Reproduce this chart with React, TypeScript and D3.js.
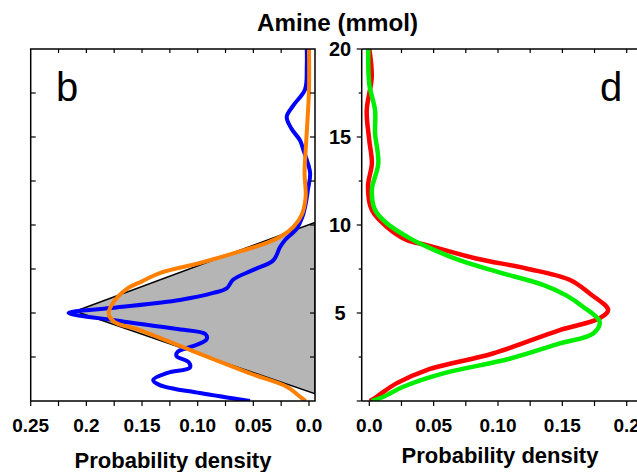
import React from "react";
import * as d3 from "d3";

// ---- data (amine mmol, probability density) ----
const blueAmine = [0, 0.45, 0.9, 1.2, 1.6, 1.9, 2.2, 2.55, 2.8, 3.1, 3.5, 3.8, 4.1, 4.55, 5.0, 5.28, 5.74, 6.14, 6.4, 6.9, 7.45, 8.0, 8.75, 9.15, 9.8, 10.45, 11.2, 12.0, 12.95, 14.26, 14.8, 15.5, 16.15, 16.8, 17.7, 19.0, 20.0];
const blueDensity = [0.053, 0.098, 0.134, 0.14, 0.127, 0.107, 0.108, 0.119, 0.118, 0.105, 0.092, 0.093, 0.12, 0.17, 0.216, 0.178, 0.116, 0.086, 0.074, 0.068, 0.05, 0.032, 0.026, 0.0215, 0.011, 0.006, 0.003, 0.001, -0.001, 0.005, 0.008, 0.016, 0.02, 0.014, 0.0036, 0.002, 0.002];

const orangeAmine = [0, 0.24, 0.81, 1.57, 2.9, 4.03, 4.5, 5.0, 5.57, 5.9, 6.4, 6.8, 7.27, 7.84, 8.5, 8.98, 9.4, 9.9, 10.57, 11.6, 12.95, 14.26, 15.8, 17.7, 20.0];
const orangeDensity = [0.003, 0.008, 0.02, 0.053, 0.107, 0.152, 0.175, 0.18, 0.176, 0.172, 0.163, 0.15, 0.134, 0.098, 0.062, 0.038, 0.024, 0.014, 0.0066, 0.003, 0.004, 0.003, 0.0015, 0.0, 0.0];

const priorAmine = [10.15, 5.1, 0.41];
const priorDensity = [-0.0054, 0.21, -0.0054];

const redAmine = [0, 0.24, 1.0, 1.76, 2.7, 4.03, 4.7, 5.17, 6.12, 6.875, 7.53, 8.1, 8.86, 9.15, 9.9, 10.85, 12.2, 13.5, 14.8, 16.5, 18.4, 20.0];
const redDensity = [0.0005, 0.0057, 0.021, 0.0446, 0.096, 0.148, 0.179, 0.1856, 0.171, 0.156, 0.122, 0.083, 0.0446, 0.029, 0.0135, 0.002, -0.001, 0.002, 0.0, -0.002, 0.0019, 0.0];

const greenAmine = [0, 0.24, 0.81, 1.57, 2.4, 3.27, 3.84, 4.5, 5.36, 6.0, 6.6, 7.35, 8.0, 8.77, 9.24, 10.1, 10.85, 12.0, 13.5, 15.2, 16.5, 18.0, 20.0];
const greenDensity = [0.002, 0.011, 0.0264, 0.0575, 0.109, 0.148, 0.174, 0.179, 0.166, 0.153, 0.135, 0.099, 0.07, 0.0446, 0.0316, 0.0135, 0.0045, 0.002, 0.007, 0.0045, 0.0045, 0.0, -0.0008];

const leftTickValues = [0.25, 0.2, 0.15, 0.1, 0.05, 0.0];
const leftTickLabels = ["0.25", "0.2", "0.15", "0.10", "0.05", "0.0"];
const rightTickValues = [0.0, 0.05, 0.1, 0.15, 0.2];
const rightTickLabels = ["0.0", "0.05", "0.10", "0.15", "0.2"];
const yTickValues = [5, 10, 15, 20];
const yTickLabels = ["5", "10", "15", "20"];
const yMinorValues = [2.5, 5, 7.5, 10, 12.5, 15, 17.5];

const FONT = "'Liberation Sans', Arial, Helvetica, sans-serif";

export default function App() {
  const W = 637, H = 472;
  const y = d3.scaleLinear().domain([0, 20]).range([401, 49]);
  const xL = d3.scaleLinear().domain([0.25, 0]).range([30.7, 309]);
  const xR = d3.scaleLinear().domain([0, 0.2]).range([369.3, 626.7]);
  const L = { x0: 30.7, x1: 315, y0: 49, y1: 401 };
  const R = { x0: 361.7, x1: 660, y0: 49, y1: 401 };

  const zip = (a: number[], d: number[]) => a.map((v, i) => [d[i], v] as [number, number]);
  const lineL = d3.line<[number, number]>().x((p) => xL(p[0])).y((p) => y(p[1])).curve(d3.curveCatmullRom.alpha(0.5));
  const lineR = d3.line<[number, number]>().x((p) => xR(p[0])).y((p) => y(p[1])).curve(d3.curveCatmullRom.alpha(0.5));
  const priorPath = d3.line<[number, number]>().x((p) => xL(p[0])).y((p) => y(p[1]))(zip(priorAmine, priorDensity)) + "Z";

  const minorX = d3.range(0, 11).map((i) => i * 0.025);
  const minorXR = d3.range(0, 11).map((i) => i * 0.025);

  return (
    <svg width={W} height={H} style={{ position: "absolute", left: 0, top: 0, display: "block" }} fontFamily={FONT}>
      <defs>
        <clipPath id="clipL"><rect x={L.x0} y={L.y0} width={L.x1 - L.x0} height={L.y1 - L.y0} /></clipPath>
        <clipPath id="clipR"><rect x={R.x0} y={R.y0} width={R.x1 - R.x0} height={R.y1 - R.y0} /></clipPath>
      </defs>
      <rect width={W} height={H} fill="#fff" />

      {/* Left panel */}
      <g clipPath="url(#clipL)">
        <path d={priorPath} fill="#b5b5b5" stroke="#000" strokeWidth={1.5} />
        <path d={lineL(zip(blueAmine, blueDensity)) || ""} fill="none" stroke="#0000ff" strokeWidth={4} strokeLinejoin="round" />
        <path d={lineL(zip(orangeAmine, orangeDensity)) || ""} fill="none" stroke="#ff7f00" strokeWidth={4} strokeLinejoin="round" />
      </g>
      <rect x={L.x0} y={L.y0} width={L.x1 - L.x0} height={L.y1 - L.y0} fill="none" stroke="#000" strokeWidth={1.5} />
      {minorX.map((v, i) => (
        <g key={"lx" + i}>
          <line x1={xL(v)} x2={xL(v)} y1={L.y1} y2={L.y1 + 5} stroke="#000" strokeWidth={1.2} />
          {v > 0.001 && v < 0.249 && <line x1={xL(v)} x2={xL(v)} y1={L.y0} y2={L.y0 + 4} stroke="#000" strokeWidth={1.2} />}
        </g>
      ))}
      {yMinorValues.map((v, i) => (
        <g key={"ly" + i}>
          <line x1={L.x0} x2={L.x0 + 5} y1={y(v)} y2={y(v)} stroke="#000" strokeWidth={1.2} />
          <line x1={L.x1 - 5} x2={L.x1} y1={y(v)} y2={y(v)} stroke="#000" strokeWidth={1.2} />
        </g>
      ))}
      {leftTickValues.map((v, i) => (
        <text key={"lt" + i} x={xL(v)} y={432} textAnchor="middle" fontSize={19} fontWeight="bold">{leftTickLabels[i]}</text>
      ))}
      <text x={56} y={101} fontSize={40}>b</text>
      <text x={173} y={468} textAnchor="middle" fontSize={22} fontWeight="bold">Probability density</text>

      {/* Right panel */}
      <g clipPath="url(#clipR)">
        <path d={lineR(zip(redAmine, redDensity)) || ""} fill="none" stroke="#ff0000" strokeWidth={4.5} strokeLinejoin="round" />
        <path d={lineR(zip(greenAmine, greenDensity)) || ""} fill="none" stroke="#00ee00" strokeWidth={4.5} strokeLinejoin="round" />
      </g>
      <line x1={R.x0} x2={R.x0} y1={R.y0} y2={R.y1} stroke="#000" strokeWidth={1.5} />
      <line x1={R.x0} x2={W} y1={R.y0} y2={R.y0} stroke="#000" strokeWidth={1.5} />
      <line x1={R.x0} x2={W} y1={R.y1} y2={R.y1} stroke="#000" strokeWidth={1.5} />
      {minorXR.map((v, i) => (
        <g key={"rx" + i}>
          <line x1={xR(v)} x2={xR(v)} y1={R.y1} y2={R.y1 + 5} stroke="#000" strokeWidth={1.2} />
          {v > 0.001 && <line x1={xR(v)} x2={xR(v)} y1={R.y0} y2={R.y0 + 4} stroke="#000" strokeWidth={1.2} />}
        </g>
      ))}
      {[0, ...yMinorValues, 20].map((v, i) => (
        <line key={"ry" + i} x1={R.x0 - (v % 5 === 0 ? 5 : 3)} x2={R.x0} y1={y(v)} y2={y(v)} stroke="#000" strokeWidth={1.2} />
      ))}
      {yTickValues.map((v, i) => (
        <text key={"ryt" + i} x={340} y={y(v)} dy="0.36em" textAnchor="middle" fontSize={20} fontWeight="bold">{yTickLabels[i]}</text>
      ))}
      {rightTickValues.map((v, i) => (
        <text key={"rt" + i} x={xR(v)} y={432} textAnchor="middle" fontSize={19} fontWeight="bold">{rightTickLabels[i]}</text>
      ))}
      <text x={600} y={101} fontSize={40}>d</text>
      <text x={500} y={463} textAnchor="middle" fontSize={22} fontWeight="bold">Probability density</text>

      <text x={337.5} y={31} textAnchor="middle" fontSize={23} fontWeight="bold" textLength={161} lengthAdjust="spacingAndGlyphs">Amine (mmol)</text>
    </svg>
  );
}
